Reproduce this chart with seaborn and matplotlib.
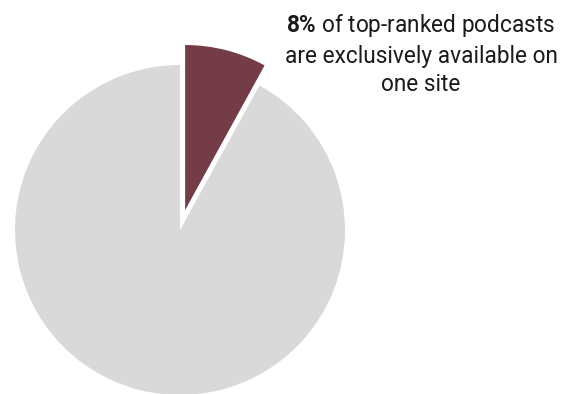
import matplotlib
matplotlib.use("Agg")
import matplotlib.pyplot as plt
import seaborn as sns

# Share of top-ranked podcasts by availability
labels = ["Exclusive to one site", "Available on multiple sites"]
shares = [8, 92]
colors = ["#733C47", "#D9D9D9"]
caption = "$\\bf{8\\%}$ of top-ranked podcasts\nare exclusively available on\none site"

sns.set_theme(style="white")
plt.rcParams["font.family"] = ["Roboto", "DejaVu Sans"]
plt.rcParams["mathtext.fontset"] = "custom"
plt.rcParams["mathtext.bf"] = "Roboto:bold"
plt.rcParams["mathtext.rm"] = "Roboto"

W, H = 571, 394
fig = plt.figure(figsize=(W / 100, H / 100), dpi=100)

cx, cy, r = 180, 230, 165
ax = fig.add_axes([(cx - r) / W, (H - cy - r) / H, 2 * r / W, 2 * r / H])
ax.pie(shares, colors=colors, startangle=90, counterclock=False,
       explode=[0.125, 0], radius=1,
       wedgeprops=dict(linewidth=0))
ax.set_xlim(-1, 1)
ax.set_ylim(-1, 1)
ax.set_aspect("auto")
ax.axis("off")

fig.text(421 / W, 1 - 54 / H, caption, ha="center", va="center",
         multialignment="center", fontsize=16.3, color="#1a1a1a",
         linespacing=1.3)

fig.savefig("out.png", dpi=100)
